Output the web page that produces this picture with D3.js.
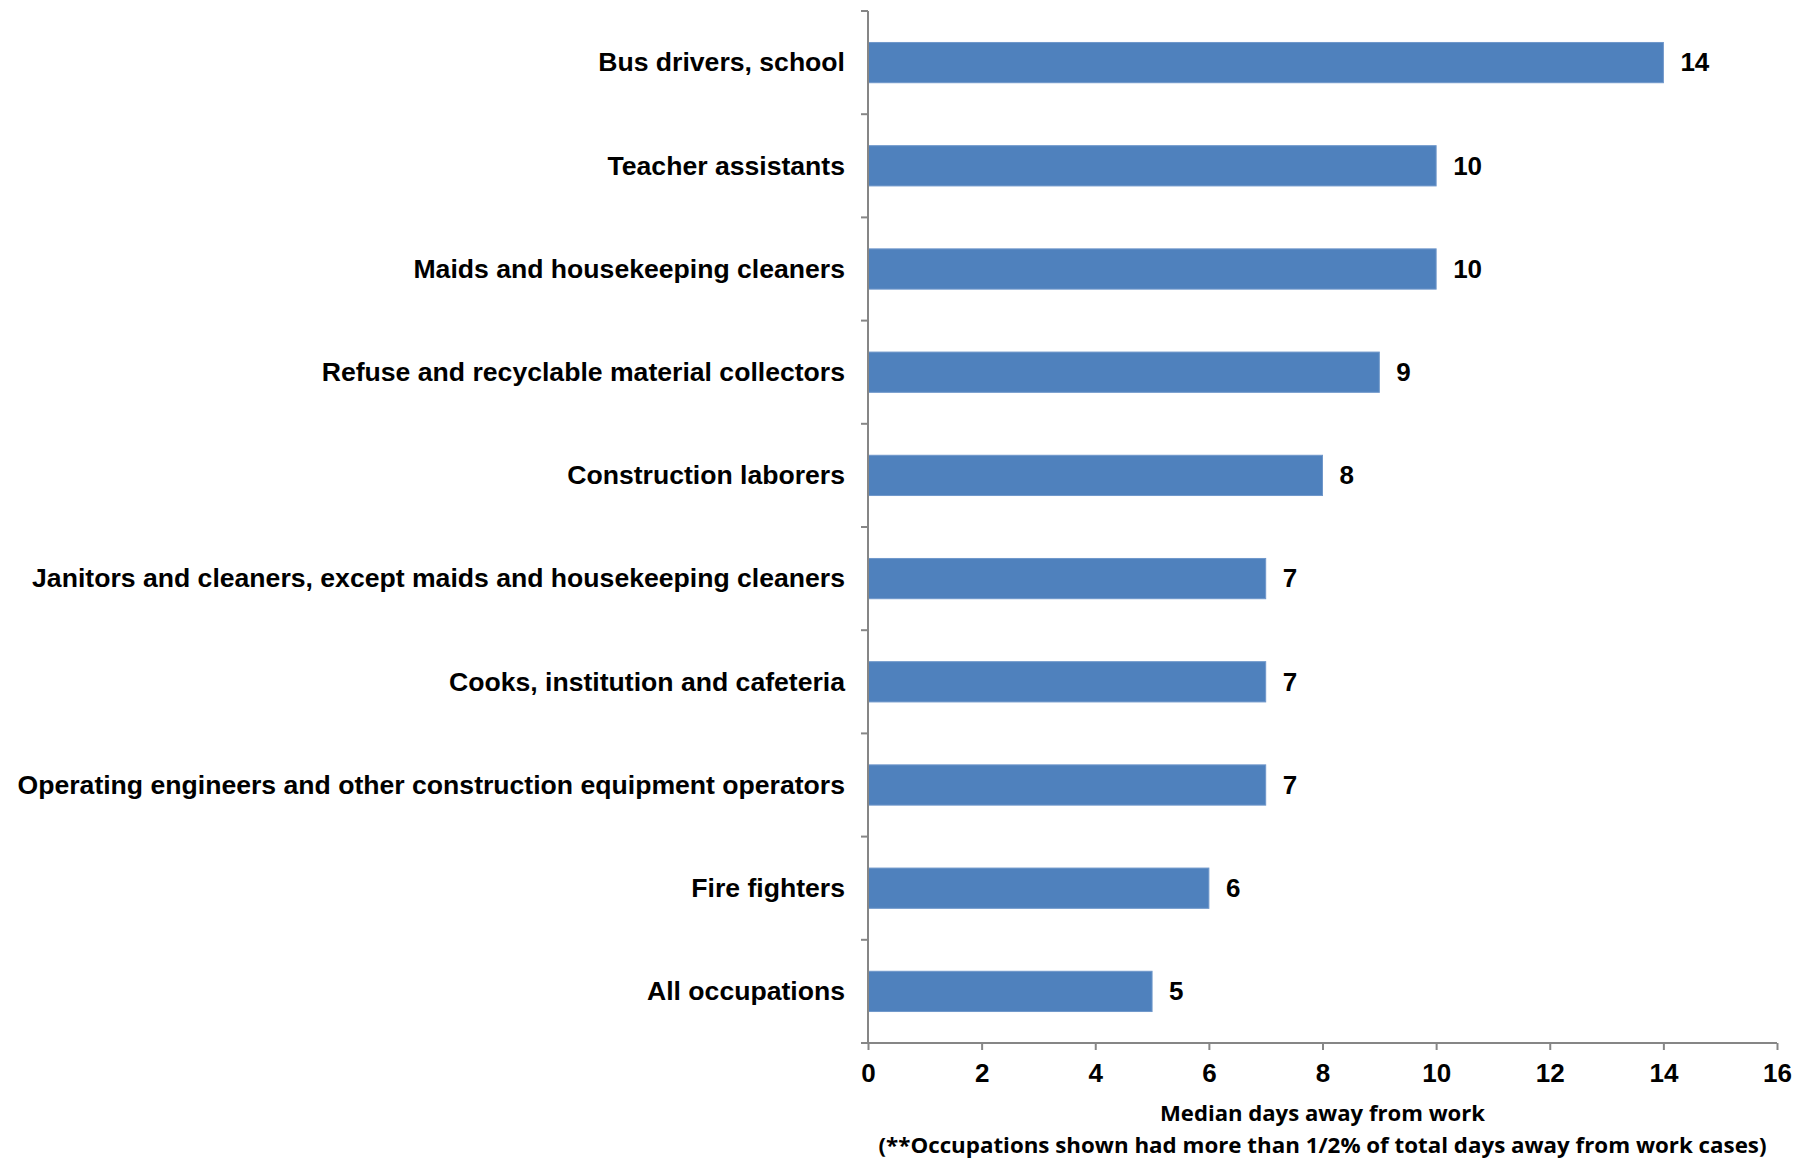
<!DOCTYPE html>
<html>
<head>
<meta charset="utf-8">
<script src="https://cdn.jsdelivr.net/npm/d3@7"></script>
<style>
  body { margin: 0; background: #fff; }
  .cat { font-family: "Liberation Sans", Arial, sans-serif; font-weight: bold; font-size: 26.6px; fill: #000; }
  .val { font-family: "Liberation Sans", Arial, sans-serif; font-weight: bold; font-size: 26px; fill: #000; }
  .tick text { font-family: "Liberation Sans", Arial, sans-serif; font-weight: bold; font-size: 26px; fill: #000; }
  .title { font-family: "Open Sans", sans-serif; font-weight: bold; font-size: 22px; fill: #000; }
</style>
</head>
<body>
<div id="container"></div>
<script>
// occupations, top to bottom
var categories = [
  "Bus drivers, school",
  "Teacher assistants",
  "Maids and housekeeping cleaners",
  "Refuse and recyclable material collectors",
  "Construction laborers",
  "Janitors and cleaners, except maids and housekeeping cleaners",
  "Cooks, institution and cafeteria",
  "Operating engineers and other construction equipment operators",
  "Fire fighters",
  "All occupations"
];
var medianDays = [14, 10, 10, 9, 8, 7, 7, 7, 6, 5];
var xTicks = [0, 2, 4, 6, 8, 10, 12, 14, 16];
var axisTitle = "Median days away from work";
var footnote = "(**Occupations shown had more than 1/2% of total days away from work cases)";

const W = 1814, H = 1162;
const plotLeft = 868, plotRight = 1777, plotTop = 11, plotBottom = 1043;

var svg = d3.select("#container").append("svg")
  .attr("width", W)
  .attr("height", H);

const data = categories.map((c, i) => ({ name: c, value: medianDays[i] }));

const xScale = d3.scaleLinear()
  .domain([0, 16])
  .range([plotLeft, plotRight]);

const yScale = d3.scaleBand()
  .domain(categories)
  .range([plotTop, plotBottom])
  .paddingInner(0.61)
  .paddingOuter(0.305);

// bars
svg.selectAll('rect.bar')
  .data(data)
  .enter()
  .append('rect')
  .attr('class', 'bar')
  .attr('x', xScale(0))
  .attr('y', d => yScale(d.name))
  .attr('width', d => xScale(d.value) - xScale(0))
  .attr('height', yScale.bandwidth())
  .attr('fill', '#4F81BD')
  .attr('stroke', '#6F97CA')
  .attr('stroke-width', 1);

// value labels
svg.selectAll('text.val')
  .data(data)
  .enter()
  .append('text')
  .attr('class', 'val')
  .attr('x', d => xScale(d.value) + 17)
  .attr('y', d => yScale(d.name) + yScale.bandwidth() / 2)
  .attr('dy', '0.34em')
  .text(d => d.value);

// category labels
svg.selectAll('text.cat')
  .data(data)
  .enter()
  .append('text')
  .attr('class', 'cat')
  .attr('x', plotLeft - 23)
  .attr('y', d => yScale(d.name) + yScale.bandwidth() / 2)
  .attr('dy', '0.33em')
  .attr('text-anchor', 'end')
  .text(d => d.name);

// y axis line with ticks between categories
const step = yScale.step();
const yTickPos = d3.range(categories.length + 1).map(i => plotTop + i * step);
svg.append('line')
  .attr('x1', plotLeft).attr('x2', plotLeft)
  .attr('y1', plotTop).attr('y2', plotBottom)
  .attr('stroke', '#868686').attr('stroke-width', 2);
svg.selectAll('line.ytick')
  .data(yTickPos)
  .enter()
  .append('line')
  .attr('class', 'ytick')
  .attr('x1', plotLeft - 7).attr('x2', plotLeft)
  .attr('y1', d => d).attr('y2', d => d)
  .attr('stroke', '#868686').attr('stroke-width', 2);

// x axis
const xAxis = svg.append('g')
  .attr('transform', `translate(0,${plotBottom})`)
  .call(d3.axisBottom(xScale)
    .tickValues(xTicks)
    .tickSize(7)
    .tickPadding(14)
    .tickFormat(d3.format('d')));
xAxis.select('.domain').attr('stroke', '#868686').attr('stroke-width', 2)
  .attr('d', `M${plotLeft - 7},0H${plotRight}`);
xAxis.selectAll('.tick line').attr('stroke', '#868686').attr('stroke-width', 2);

// titles
const cx = (plotLeft + plotRight) / 2;
svg.append('text')
  .attr('class', 'title')
  .attr('x', cx)
  .attr('y', 1113)
  .attr('dy', '0.35em')
  .attr('text-anchor', 'middle')
  .attr('textLength', 325)
  .attr('lengthAdjust', 'spacingAndGlyphs')
  .text(axisTitle);

svg.append('text')
  .attr('class', 'title')
  .attr('x', cx)
  .attr('y', 1145)
  .attr('dy', '0.35em')
  .attr('text-anchor', 'middle')
  .attr('textLength', 888)
  .attr('lengthAdjust', 'spacingAndGlyphs')
  .text(footnote);
</script>
</body>
</html>
